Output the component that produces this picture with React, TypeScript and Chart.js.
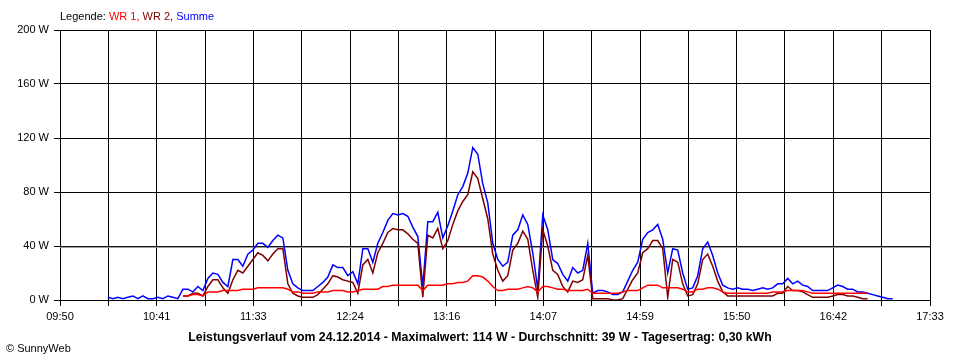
import React, { useEffect, useRef } from "react";
import { Chart, registerables } from "chart.js";

Chart.register(...registerables);

// ---- data ----
const TICK_LABELS = ["09:50", "10:41", "11:33", "12:24", "13:16", "14:07", "14:59", "15:50", "16:42", "17:33"];
const X_MAX = 463; // minutes from 09:50 to 17:33
const GRID_DIVS = 18;
const Y_TICKS = [0, 40, 80, 120, 160, 200];
const START_MIN = 25.5; // first sample (minutes after 09:50)
const STEP_MIN = 2.66; // sample spacing in minutes
const AVG = 39;
const TITLE = "Leistungsverlauf vom 24.12.2014 - Maximalwert: 114 W - Durchschnitt: 39 W - Tagesertrag: 0,30 kWh";

const SUMME: (number | null)[] = [
  2, 1, 2, 1, 2, 3, 1, 3, 1, 1, 2, 1, 3, 2, 1,
  8, 8, 6, 10, 7, 16, 20, 19, 13, 10,
  30, 30, 25, 34, 37, 42, 42, 39, 44, 48, 46, 22, 12, 9, 7, 7, 7, 10, 13, 17,
  26, 24, 24, 18, 21, 12, 38, 38, 28, 42, 50, 59, 64, 63, 64, 62, 54, 47, 10, 58,
  58, 65, 46, 55, 66, 78, 84, 94, 113, 108, 86, 72, 42, 30, 25, 28, 48, 52, 63, 56,
  35, 8, 63, 52, 30, 27, 19, 14, 24, 20, 22, 42, 5, 7, 7, 6, 4, 4, 6, 14,
  22, 28, 45, 50, 52, 56, 45, 20, 38, 37, 20, 8, 9, 18, 38, 43, 33, 20, 11, 9,
  8, 9, 8, 8, 7, 8, 9, 8, 9, 12, 12, 16, 12, 14, 11, 10, 7, 7, 7, 7,
  9, 11, 10, 8, 8, 6, 6, 5, 4, 3, 2, 1, 1,
];

const WR2: (number | null)[] = [
  null, null, null, null, null, null, null, null, null, null, null, null, null, null, null,
  3, 3, 5, 5, 3, 10, 15, 15, 9, 5,
  15, 22, 20, 25, 30, 35, 33, 29, 34, 38, 38, 12, 5, 3, 2, 2, 2, 4, 8, 12,
  18, 17, 15, 14, 13, 5, 26, 30, 20, 35, 42, 50, 53, 52, 52, 49, 45, 42, 2, 48,
  46, 53, 38, 44, 56, 66, 73, 78, 95, 90, 75, 60, 34, 22, 14, 18, 37, 42, 51, 45,
  22, 2, 52, 40, 22, 19, 10, 6, 14, 13, 15, 33, 1, 1, 1, 1, 0, 0, 1, 8,
  15, 20, 35, 38, 44, 44, 38, 2, 30, 28, 12, 3, 4, 12, 30, 34, 25, 14, 6, 3,
  3, 3, 3, 3, 3, 3, 3, 3, 3, 5, 5, 10, 7, 7, 6, 4, 2, 2, 2, 2,
  3, 4, 4, 3, 3, 2, 1, 1, null, null, null, null, null,
];

const WR1: (number | null)[] = [
  null, null, null, null, null, null, null, null, null, null, null, null, null, null, null,
  3, 3, 4, 4, 3, 6, 6, 6, 7, 7,
  7, 7, 8, 8, 8, 9, 9, 9, 9, 9, 9, 8, 6, 6, 5, 5, 5, 6, 6, 6,
  7, 7, 7, 6, 6, 7, 8, 8, 8, 8, 10, 10, 11, 11, 11, 11, 11, 11, 7, 11,
  11, 11, 11, 12, 12, 13, 13, 14, 18, 18, 17, 14, 10, 7, 7, 8, 8, 8, 9, 10,
  9, 6, 10, 10, 9, 8, 8, 7, 7, 7, 7, 8, 5, 5, 5, 5, 5, 5, 6, 7,
  7, 7, 9, 11, 11, 11, 9, 9, 9, 9, 8, 6, 6, 8, 8, 9, 9, 8, 6, 5,
  5, 5, 5, 5, 5, 5, 5, 5, 6, 6, 6, 7, 7, 7, 7, 6, 5, 5, 5, 5,
  5, 5, 5, 5, 5, 5, 5, 5, null, null, null, null, null,
];

const FONT = "Arial, 'Liberation Sans', sans-serif";

function toPoints(vals: (number | null)[]) {
  return vals.map((v, i) => ({ x: START_MIN + i * STEP_MIN, y: v }));
}

// centre the bottom title on the whole canvas rather than the padded layout box
const centreTitle = {
  id: "centreTitle",
  afterLayout(chart: any) {
    const t = chart.titleBlock;
    if (t) {
      t.left = 0;
      t.right = chart.width;
      t.width = chart.width;
    }
  },
};

export default function App() {
  const ref = useRef<HTMLCanvasElement | null>(null);

  useEffect(() => {
    if (!ref.current) return;
    const titleSize = 12.3;
    const titleFont = { size: titleSize, weight: "bold" as const, family: FONT, lineHeight: 1.2 };
    const titlePad = { top: 0, bottom: 15 };
    const titleBox = titleSize * 1.2 + titlePad.top + titlePad.bottom;
    const chart = new Chart(ref.current, {
      type: "line",
      data: {
        datasets: [
          {
            label: "WR 1",
            data: toPoints(WR1),
            borderColor: "#ff0000",
            borderWidth: 1.5,
            pointRadius: 0,
            tension: 0,
            spanGaps: false,
            order: 0,
          },
          {
            label: "WR 2",
            data: toPoints(WR2),
            borderColor: "#800000",
            borderWidth: 1.5,
            pointRadius: 0,
            tension: 0,
            spanGaps: false,
            order: 1,
          },
          {
            label: "Summe",
            data: toPoints(SUMME),
            borderColor: "#0000ff",
            borderWidth: 1.5,
            pointRadius: 0,
            tension: 0,
            spanGaps: false,
            order: 2,
          },
          {
            label: "Durchschnitt",
            data: [
              { x: 0, y: AVG },
              { x: X_MAX, y: AVG },
            ],
            borderColor: "#8c8c8c",
            borderWidth: 1,
            pointRadius: 0,
            order: 3,
          },
        ],
      },
      options: {
        animation: false,
        responsive: false,
        devicePixelRatio: 1,
        layout: { padding: { top: 30, right: 30, left: 0, bottom: 0 } },
        plugins: {
          legend: { display: false },
          tooltip: { enabled: false },
          title: {
            display: true,
            position: "bottom",
            text: TITLE,
            color: "#000",
            font: titleFont,
            padding: titlePad,
          },
        },
        scales: {
          x: {
            type: "linear",
            min: 0,
            max: X_MAX,
            afterBuildTicks: (s: any) => {
              s.ticks = Array.from({ length: GRID_DIVS + 1 }, (_, i) => ({ value: (i * X_MAX) / GRID_DIVS }));
            },
            afterFit: (s: any) => {
              s.height = 60 - titleBox;
            },
            ticks: {
              autoSkip: false,
              maxRotation: 0,
              minRotation: 0,
              padding: 4,
              color: "#000",
              font: { size: 11, family: FONT },
              callback: (_v: any, i: number) => (i % 2 === 0 ? TICK_LABELS[i / 2] : ""),
            },
            grid: { color: "#000", lineWidth: 1, tickLength: 6, drawTicks: true },
            border: { color: "#000", width: 1 },
          },
          y: {
            min: 0,
            max: 200,
            afterBuildTicks: (s: any) => {
              s.ticks = Y_TICKS.map((v) => ({ value: v }));
            },
            afterFit: (s: any) => {
              s.width = 60;
            },
            ticks: {
              padding: 5,
              color: "#000",
              font: { size: 11, family: FONT },
              callback: (v: any) => `${v} W`,
            },
            grid: { color: "#000", lineWidth: 1, tickLength: 6, drawTicks: true },
            border: { color: "#000", width: 1 },
          },
        },
      },
      plugins: [centreTitle],
    });
    return () => chart.destroy();
  }, []);

  return (
    <div
      style={{
        position: "fixed",
        left: 0,
        top: 0,
        width: 960,
        height: 360,
        background: "#fff",
        fontFamily: FONT,
        fontSize: 11,
      }}
    >
      <canvas ref={ref} width={960} height={360} style={{ position: "absolute", left: 0, top: 0 }} />
      <div style={{ position: "absolute", left: 60, top: 10, lineHeight: "13px", whiteSpace: "nowrap" }}>
        <span style={{ color: "#000" }}>Legende: </span>
        <span style={{ color: "#ff0000" }}>WR 1, </span>
        <span style={{ color: "#800000" }}>WR 2, </span>
        <span style={{ color: "#0000ff" }}>Summe</span>
      </div>
      <div style={{ position: "absolute", left: 6, top: 342, lineHeight: "13px", whiteSpace: "nowrap", color: "#000" }}>
        © SunnyWeb
      </div>
    </div>
  );
}
